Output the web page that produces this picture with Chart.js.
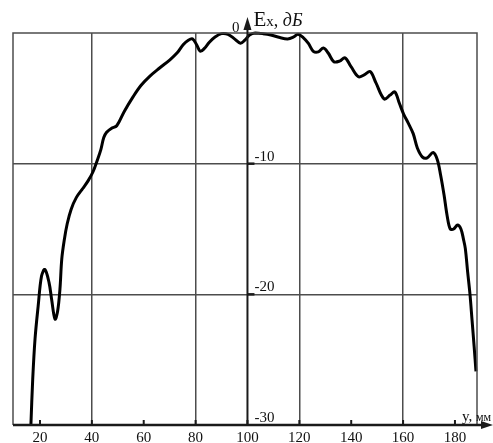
<!DOCTYPE html>
<html>
<head>
<meta charset="utf-8">
<script src="https://cdn.jsdelivr.net/npm/chart.js@4.4.1/dist/chart.umd.min.js"></script>
<style>
  html, body { margin: 0; padding: 0; background: #fff; }
  #wrap { width: 493px; height: 443px; }
</style>
</head>
<body>
<div id="wrap"><canvas id="myChart" width="493" height="443"></canvas></div>
<script>
// y, mm (horizontal position)
var yPos = [16.5, 17.2, 18.1, 19.3, 20.6, 21.9, 23.5, 24.5, 25.8, 26.8, 27.7, 28.4,
  29.4, 30.5, 32.0, 34.0, 36.5, 38.6, 40.5, 42.0, 43.5, 44.6, 45.7, 47.5, 49.6,
  52.5, 56.0, 59.0, 62.4, 66.0, 70.1, 73.0, 75.2, 77.2, 78.8, 80.4, 81.8, 83.3,
  85.3, 87.5, 90.0, 92.5, 95.0, 97.3, 99.0, 100.8, 103.0, 106.0, 109.0, 112.5,
  115.5, 117.8, 119.5, 121.5, 123.5, 125.4, 127.3, 129.3, 131.2, 133.3, 135.5,
  137.6, 140.0, 142.8, 145.0, 147.3, 149.5, 152.7, 155.0, 156.8, 158.6, 160.2,
  162.0, 163.9, 165.5, 167.5, 169.3, 171.6, 173.2, 174.5, 175.8, 177.0, 178.2,
  179.5, 181.0, 182.3, 183.3, 184.0, 184.9, 185.8, 186.6, 187.4, 188.1];

// Ex, dB
var exValues = [-30.0, -26.5, -23.4, -20.9, -18.6, -18.1, -19.1, -20.4, -21.9, -21.3, -19.6, -17.3,
  -15.8, -14.6, -13.5, -12.6, -11.9, -11.3, -10.6, -9.8, -8.9, -8.0, -7.6, -7.3, -7.1,
  -6.0, -4.85, -4.0, -3.3, -2.7, -2.05, -1.5, -0.9, -0.55, -0.45, -0.9, -1.4, -1.2,
  -0.7, -0.3, -0.05, -0.1, -0.45, -0.78, -0.55, -0.15, 0.0, -0.05, -0.15, -0.35,
  -0.45, -0.3, -0.1, -0.35, -0.8, -1.4, -1.45, -1.15, -1.55, -2.2, -2.15,
  -1.9, -2.6, -3.35, -3.2, -2.95, -3.8, -5.05, -4.75, -4.5, -5.4, -6.2,
  -6.9, -7.7, -8.8, -9.5, -9.55, -9.15, -9.7, -10.9, -12.4, -14.0, -15.0,
  -15.0, -14.7, -15.0, -15.8, -16.5, -18.3, -20.0, -22.0, -24.0, -25.9];

var xTicks = [20, 40, 60, 80, 100, 120, 140, 160, 180];
var xGrid = [40, 80, 120, 160];
var yTicks = [-30, -20, -10, 0];
var yGrid = [-20, -10];

var points = [];
for (var i = 0; i < yPos.length; i++) {
  points.push({ x: yPos[i], y: exValues[i] });
}

var gridColor = "#4d4d4d";
var serif = "'Liberation Serif', 'DejaVu Serif', serif";

// axes, arrows and labels drawn on top of the grid
var axisPlugin = {
  id: "axisPlugin",
  afterDatasetsDraw: function (chart) {
    var ctx = chart.ctx;
    var a = chart.chartArea;
    var xs = chart.scales.x;
    var ys = chart.scales.y;
    var x0 = xs.getPixelForValue(100);

    ctx.save();
    // frame
    ctx.strokeStyle = gridColor;
    ctx.lineWidth = 1.5;
    ctx.beginPath();
    ctx.moveTo(a.left, a.bottom);
    ctx.lineTo(a.left, a.top);
    ctx.lineTo(a.right, a.top);
    ctx.lineTo(a.right, a.bottom);
    ctx.stroke();

    ctx.strokeStyle = "#1a1a1a";
    ctx.fillStyle = "#1a1a1a";
    // x axis with arrow
    ctx.lineWidth = 2.5;
    ctx.beginPath();
    ctx.moveTo(a.left, a.bottom);
    ctx.lineTo(a.right + 8, a.bottom);
    ctx.stroke();
    ctx.beginPath();
    ctx.moveTo(a.right + 16, a.bottom);
    ctx.lineTo(a.right + 4, a.bottom - 4);
    ctx.lineTo(a.right + 4, a.bottom + 4);
    ctx.closePath();
    ctx.fill();

    // y axis at 100 with arrow
    ctx.lineWidth = 2;
    ctx.beginPath();
    ctx.moveTo(x0, a.bottom);
    ctx.lineTo(x0, a.top - 6);
    ctx.stroke();
    ctx.beginPath();
    ctx.moveTo(x0, a.top - 16);
    ctx.lineTo(x0 - 4, a.top - 3);
    ctx.lineTo(x0 + 4, a.top - 3);
    ctx.closePath();
    ctx.fill();

    // small tick marks
    ctx.lineWidth = 2;
    xTicks.forEach(function (v) {
      var px = xs.getPixelForValue(v);
      ctx.beginPath();
      ctx.moveTo(px, a.bottom);
      ctx.lineTo(px, a.bottom - 5);
      ctx.stroke();
    });
    ctx.lineWidth = 2.5;
    yGrid.forEach(function (v) {
      var py = ys.getPixelForValue(v);
      ctx.beginPath();
      ctx.moveTo(x0, py);
      ctx.lineTo(x0 + 7, py);
      ctx.stroke();
    });

    // tick labels
    ctx.fillStyle = "#111";
    ctx.font = "15px " + serif;
    ctx.textBaseline = "alphabetic";
    ctx.textAlign = "center";
    xTicks.forEach(function (v) {
      ctx.fillText(String(v), xs.getPixelForValue(v), a.bottom + 17);
    });
    yTicks.forEach(function (v) {
      var py = ys.getPixelForValue(v);
      if (v === 0) {
        ctx.textAlign = "right";
        ctx.fillText("0", x0 - 8, py - 1);
      } else {
        ctx.textAlign = "left";
        ctx.fillText(String(v), x0 + 7, py - 3);
      }
    });

    // axis titles
    ctx.textAlign = "left";
    var tx = x0 + 6;
    var ty = a.top - 7;
    ctx.font = "21px " + serif;
    ctx.fillText("E", tx, ty);
    tx += ctx.measureText("E").width;
    ctx.font = "15px " + serif;
    ctx.fillText("x", tx, ty);
    tx += ctx.measureText("x").width;
    ctx.font = "18px " + serif;
    ctx.fillText(", ", tx, ty);
    tx += ctx.measureText(", ").width;
    ctx.font = "italic 18px " + serif;
    ctx.fillText("дБ", tx, ty);

    tx = a.right - 15;
    ty = a.bottom - 4;
    ctx.font = "15px " + serif;
    ctx.fillText("y, ", tx, ty);
    tx += ctx.measureText("y, ").width;
    ctx.font = "12px " + serif;
    ctx.fillText("мм", tx, ty);
    ctx.restore();
  }
};

var ctx = document.getElementById("myChart");
var myChart = new Chart(ctx, {
  type: "scatter",
  data: {
    datasets: [{
      data: points,
      showLine: true,
      borderColor: "#000",
      borderWidth: 3,
      pointRadius: 0,
      tension: 0.35,
      fill: false,
      clip: false
    }]
  },
  options: {
    responsive: false,
    animation: false,
    devicePixelRatio: 1,
    layout: { padding: { left: 13, right: 16, top: 33, bottom: 18 } },
    plugins: { legend: { display: false }, tooltip: { enabled: false } },
    scales: {
      x: {
        type: "linear",
        min: 9.6,
        max: 188.5,
        afterBuildTicks: function (s) {
          s.ticks = xTicks.map(function (v) { return { value: v }; });
        },
        ticks: { display: false },
        border: { display: false },
        grid: {
          drawTicks: false,
          lineWidth: 1.5,
          color: function (c) {
            return xGrid.indexOf(c.tick.value) >= 0 ? gridColor : "rgba(0,0,0,0)";
          }
        }
      },
      y: {
        type: "linear",
        min: -30,
        max: 0,
        afterBuildTicks: function (s) {
          s.ticks = yTicks.map(function (v) { return { value: v }; });
        },
        ticks: { display: false },
        border: { display: false },
        grid: {
          drawTicks: false,
          lineWidth: 1.5,
          color: function (c) {
            return yGrid.indexOf(c.tick.value) >= 0 ? gridColor : "rgba(0,0,0,0)";
          }
        }
      }
    }
  },
  plugins: [axisPlugin]
});
</script>
</body>
</html>
